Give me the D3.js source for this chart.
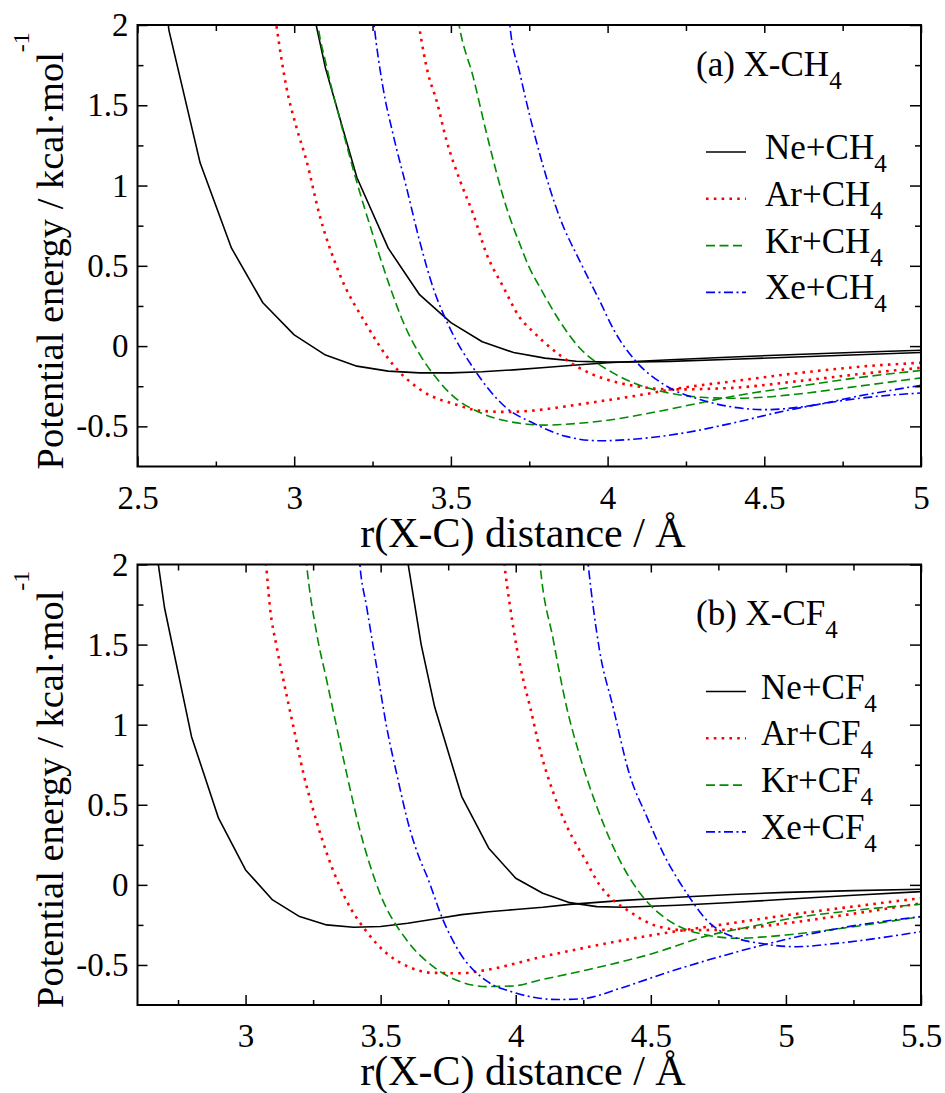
<!DOCTYPE html>
<html>
<head>
<meta charset="utf-8">
<script src="https://d3js.org/d3.v7.min.js"></script>
<style>
body { margin: 0; background: #fff; }
svg text { font-family: "Liberation Serif", "Times New Roman", Times, serif; fill: #000; }
</style>
</head>
<body>
<div id="chart"></div>
<script>
// ---- data: [r (Angstrom), E (kcal/mol)] ----
// panel (a) X-CH4, two curves per rare gas
const neCH4_1 = [[2.5,4.0],[2.6,1.97],[2.7,1.14],[2.8,0.61],[2.9,0.27],[3.0,0.07],[3.1,-0.056],[3.2,-0.125],[3.3,-0.156],[3.4,-0.167],[3.5,-0.167],[3.6,-0.16],[3.7,-0.148],[3.8,-0.133],[3.9,-0.118],[4.0,-0.104],[4.2,-0.085],[4.4,-0.068],[4.6,-0.052],[4.8,-0.038],[5.0,-0.026]];
const neCH4_2 = [[3.0,2.63],[3.1,1.73],[3.2,1.05],[3.3,0.61],[3.4,0.32],[3.5,0.146],[3.6,0.027],[3.7,-0.04],[3.8,-0.075],[3.9,-0.094],[4.0,-0.1],[4.1,-0.099],[4.2,-0.095],[4.4,-0.082],[4.6,-0.068],[4.8,-0.054],[5.0,-0.04]];
const arCH4_1 = [[2.92,2.33],[2.943,2.0],[2.975,1.614],[3.007,1.364],[3.039,1.156],[3.08,0.823],[3.145,0.448],[3.23,0.135],[3.315,-0.115],[3.41,-0.281],[3.518,-0.365],[3.59,-0.402],[3.677,-0.41],[3.76,-0.402],[3.868,-0.375],[3.975,-0.344],[4.081,-0.3125],[4.22,-0.265],[4.4,-0.219],[4.613,-0.167],[4.826,-0.125],[5.0,-0.104]];
const arCH4_2 = [[3.38,2.25],[3.398,2.0],[3.427,1.698],[3.454,1.531],[3.486,1.281],[3.529,1.031],[3.571,0.823],[3.614,0.573],[3.668,0.365],[3.72,0.177],[3.76,0.094],[3.8,0.02],[3.85,-0.06],[3.9,-0.125],[3.95,-0.175],[4.0,-0.21],[4.05,-0.235],[4.1,-0.252],[4.2,-0.27],[4.4,-0.26],[4.6,-0.22],[4.8,-0.175],[5.0,-0.135]];
const krCH4_1 = [[3.06,2.3],[3.076,2.0],[3.1,1.77],[3.15,1.38],[3.2,1.02],[3.25,0.7],[3.3,0.4],[3.35,0.14],[3.4,-0.05],[3.45,-0.19],[3.5,-0.3],[3.6,-0.42],[3.7,-0.475],[3.8,-0.492],[3.9,-0.482],[4.0,-0.462],[4.135,-0.417],[4.295,-0.354],[4.4,-0.3125],[4.61,-0.25],[4.826,-0.19],[5.0,-0.152]];
const krCH4_2 = [[3.51,2.2],[3.526,2.0],[3.571,1.677],[3.614,1.323],[3.677,0.865],[3.72,0.635],[3.75,0.49],[3.783,0.37],[3.847,0.156],[3.91,-0.01],[3.966,-0.104],[4.02,-0.17],[4.09,-0.235],[4.19,-0.29],[4.3,-0.319],[4.4,-0.325],[4.5,-0.318],[4.6,-0.3],[4.8,-0.25],[5.0,-0.198]];
const xeCH4_1 = [[3.24,2.3],[3.255,2.0],[3.283,1.614],[3.315,1.323],[3.358,0.99],[3.4,0.656],[3.443,0.365],[3.496,0.115],[3.571,-0.135],[3.677,-0.385],[3.762,-0.479],[3.868,-0.5625],[3.975,-0.59],[4.1,-0.577],[4.24,-0.542],[4.4,-0.479],[4.56,-0.406],[4.72,-0.348],[4.85,-0.315],[5.0,-0.292]];
const xeCH4_2 = [[3.675,2.3],[3.688,2.0],[3.72,1.7],[3.783,1.2],[3.847,0.802],[3.911,0.531],[3.975,0.281],[4.02,0.1],[4.09,-0.094],[4.18,-0.24],[4.295,-0.333],[4.4,-0.38],[4.507,-0.396],[4.61,-0.381],[4.826,-0.302],[5.0,-0.244]];

// panel (b) X-CF4
const neCF4_1 = [[2.6,2.91],[2.7,1.73],[2.8,0.925],[2.9,0.416],[3.0,0.093],[3.1,-0.094],[3.2,-0.198],[3.3,-0.25],[3.4,-0.265],[3.5,-0.26],[3.6,-0.24],[3.7,-0.213],[3.8,-0.186],[3.9,-0.168],[4.0,-0.154],[4.1,-0.14],[4.2,-0.122],[4.4,-0.097],[4.6,-0.077],[4.8,-0.06],[5.0,-0.047],[5.25,-0.036],[5.5,-0.027]];
const neCF4_2 = [[3.6,2.02],[3.65,1.5],[3.7,1.11],[3.8,0.551],[3.9,0.229],[4.0,0.041],[4.1,-0.052],[4.2,-0.111],[4.3,-0.136],[4.4,-0.14],[4.6,-0.127],[4.8,-0.11],[5.0,-0.09],[5.25,-0.065],[5.5,-0.042]];
const arCF4_1 = [[3.06,2.3],[3.076,2.0],[3.09,1.737],[3.115,1.487],[3.14,1.279],[3.177,0.987],[3.214,0.696],[3.25,0.47],[3.3,0.2],[3.374,-0.1],[3.448,-0.292],[3.522,-0.427],[3.596,-0.506],[3.683,-0.548],[3.794,-0.552],[3.892,-0.531],[4.09,-0.452],[4.263,-0.39],[4.51,-0.3125],[4.756,-0.25],[5.0,-0.19],[5.25,-0.135],[5.5,-0.083]];
const arCF4_2 = [[3.94,2.3],[3.958,2.0],[3.979,1.737],[4.003,1.487],[4.028,1.279],[4.053,1.112],[4.09,0.842],[4.14,0.571],[4.19,0.363],[4.263,0.14],[4.31,0.0],[4.36,-0.094],[4.42,-0.165],[4.47,-0.219],[4.53,-0.261],[4.633,-0.283],[4.756,-0.281],[5.0,-0.24],[5.25,-0.18],[5.5,-0.115]];
const krCF4_1 = [[3.21,2.3],[3.226,2.0],[3.263,1.571],[3.3,1.279],[3.337,0.987],[3.374,0.696],[3.423,0.342],[3.497,-0.052],[3.596,-0.344],[3.695,-0.511],[3.794,-0.604],[3.892,-0.635],[3.99,-0.631],[4.09,-0.594],[4.263,-0.531],[4.51,-0.427],[4.707,-0.319],[4.9,-0.25],[5.0,-0.215],[5.25,-0.16],[5.5,-0.121]];
const krCF4_2 = [[4.075,2.3],[4.09,2.0],[4.139,1.529],[4.188,1.112],[4.238,0.8],[4.3,0.488],[4.386,0.15],[4.46,-0.052],[4.53,-0.177],[4.607,-0.261],[4.706,-0.313],[4.817,-0.333],[5.0,-0.313],[5.25,-0.261],[5.5,-0.198]];
const xeCF4_1 = [[3.41,2.3],[3.423,2.0],[3.448,1.737],[3.485,1.362],[3.522,0.987],[3.559,0.696],[3.609,0.342],[3.645,0.16],[3.67,0.06],[3.73,-0.215],[3.794,-0.427],[3.892,-0.6],[3.99,-0.67],[4.077,-0.705],[4.15,-0.716],[4.25,-0.71],[4.386,-0.646],[4.57,-0.542],[4.756,-0.448],[4.94,-0.365],[5.2,-0.27],[5.5,-0.198]];
const xeCF4_2 = [[4.25,2.3],[4.268,2.0],[4.31,1.466],[4.36,1.112],[4.42,0.696],[4.485,0.426],[4.546,0.197],[4.633,-0.052],[4.706,-0.219],[4.818,-0.333],[4.904,-0.365],[5.04,-0.386],[5.188,-0.365],[5.5,-0.292]];

// ticks
const xTicksA = [2.5, 3, 3.5, 4, 4.5, 5];
const xMinorA = [2.75, 3.25, 3.75, 4.25, 4.75];
const xTicksB = [3, 3.5, 4, 4.5, 5, 5.5];
const xMinorB = [2.75, 3.25, 3.75, 4.25, 4.75, 5.25];
const yTicks = [-0.5, 0, 0.5, 1, 1.5, 2];
const yMinor = [-0.25, 0.25, 0.75, 1.25, 1.75];
const gases = ["Ne", "Ar", "Kr", "Xe"];

// line styles per gas
const styles = {
    Ne: {color: "#000000", dash: null,          width: 1.6, curve: d3.curveLinear},
    Ar: {color: "#ff0000", dash: "2.6,5.2",     width: 2.6, curve: d3.curveMonotoneX},
    Kr: {color: "#008b00", dash: "9,4.5",       width: 1.6, curve: d3.curveMonotoneX},
    Xe: {color: "#0000ff", dash: "9,3.5,2,3.5", width: 1.6, curve: d3.curveMonotoneX}
};

const FONT = '"Liberation Serif", "Times New Roman", Times, serif';
const W = 945, H = 1093;
const L = 137.5, R = 921;
const fmt = d => String(d);

const svg = d3.select("#chart").append("svg")
    .attr("width", W).attr("height", H)
    .style("font-family", FONT);

function drawPanel(p) {
    const x = d3.scaleLinear().domain(p.xDomain).range([L, R]);
    const y = d3.scaleLinear().domain([-0.75, 2]).range([p.bottom, p.top]);
    const g = svg.append("g");

    // clip for curves
    g.append("clipPath").attr("id", "clip" + p.id)
        .append("rect").attr("x", L).attr("y", p.top)
        .attr("width", R - L).attr("height", p.bottom - p.top);

    const curves = g.append("g").attr("clip-path", "url(#clip" + p.id + ")");
    p.series.forEach(s => {
        const st = styles[s.gas];
        const line = d3.line().x(d => x(d[0])).y(d => y(d[1])).curve(st.curve);
        curves.append("path")
            .attr("d", line(s.data))
            .attr("fill", "none")
            .attr("stroke", st.color)
            .attr("stroke-width", st.width)
            .attr("stroke-dasharray", st.dash)
            .attr("stroke-linejoin", "round");
    });

    // axes: inward ticks on all four sides
    function styleAxis(a) {
        a.attr("font-family", null).attr("font-size", null);
        a.select(".domain").remove();
        a.selectAll("line").attr("stroke", "#000").attr("stroke-width", 1.5);
        a.selectAll("text").style("font-family", FONT).style("font-size", "33px");
    }
    g.append("g").attr("transform", `translate(0,${p.bottom})`)
        .call(d3.axisBottom(x).tickValues(p.xTicks).tickSize(-10).tickPadding(19).tickFormat(fmt))
        .call(styleAxis);
    g.append("g").attr("transform", `translate(0,${p.bottom})`)
        .call(d3.axisBottom(x).tickValues(p.xMinor).tickSize(-5).tickFormat(""))
        .call(styleAxis);
    g.append("g").attr("transform", `translate(0,${p.top})`)
        .call(d3.axisTop(x).tickValues(p.xTicks).tickSize(-8).tickFormat(""))
        .call(styleAxis);
    g.append("g").attr("transform", `translate(0,${p.top})`)
        .call(d3.axisTop(x).tickValues(p.xMinor).tickSize(-6).tickFormat(""))
        .call(styleAxis);
    g.append("g").attr("transform", `translate(${L},0)`)
        .call(d3.axisLeft(y).tickValues(yTicks).tickSize(-10).tickPadding(9).tickFormat(fmt))
        .call(styleAxis);
    g.append("g").attr("transform", `translate(${L},0)`)
        .call(d3.axisLeft(y).tickValues(yMinor).tickSize(-6).tickFormat(""))
        .call(styleAxis);
    g.append("g").attr("transform", `translate(${R},0)`)
        .call(d3.axisRight(y).tickValues(yTicks).tickSize(-11).tickFormat(""))
        .call(styleAxis);
    g.append("g").attr("transform", `translate(${R},0)`)
        .call(d3.axisRight(y).tickValues(yMinor).tickSize(-6).tickFormat(""))
        .call(styleAxis);

    g.append("rect")
        .attr("x", L).attr("y", p.top)
        .attr("width", R - L).attr("height", p.bottom - p.top)
        .attr("fill", "none").attr("stroke", "#000").attr("stroke-width", 2);

    // axis titles
    g.append("text")
        .attr("x", 523).attr("y", p.bottom + 80)
        .attr("text-anchor", "middle").style("font-size", "42px")
        .text("r(X-C) distance / Å");

    // y title starts just below the plot bottom and reads upwards
    const yt = g.append("text")
        .attr("transform", `translate(63,${p.bottom + 3}) rotate(-90)`)
        .attr("text-anchor", "start").style("font-size", "38.5px");
    yt.append("tspan").text("Potential energy / kcal·mol");
    yt.append("tspan").style("font-size", "24px").attr("dy", -34).text("-1");

    // panel label
    const lab = g.append("text")
        .attr("x", 696).attr("y", p.labelY).style("font-size", "35px");
    lab.append("tspan").text(p.label);
    lab.append("tspan").style("font-size", "25px").attr("dy", 13).text("4");

    // legend
    gases.forEach((gas, i) => {
        const st = styles[gas];
        const ly = p.top + 127 + i * 46.8;
        g.append("line")
            .attr("x1", 706).attr("x2", 746).attr("y1", ly).attr("y2", ly)
            .attr("stroke", st.color).attr("stroke-width", st.width)
            .attr("stroke-dasharray", st.dash);
        const t = g.append("text")
            .attr("x", p.legendX).attr("y", ly + 7).style("font-size", "35px");
        t.append("tspan").text(gas + p.legendSuffix);
        t.append("tspan").style("font-size", "25px").attr("dy", 13).text("4");
    });
}

drawPanel({
    id: "a", top: 25, bottom: 466.5, xDomain: [2.5, 5],
    xTicks: xTicksA, xMinor: xMinorA,
    label: "(a) X-CH", labelY: 75.5, legendX: 765, legendSuffix: "+CH",
    series: [
        {gas: "Ne", data: neCH4_1}, {gas: "Ne", data: neCH4_2},
        {gas: "Ar", data: arCH4_1}, {gas: "Ar", data: arCH4_2},
        {gas: "Kr", data: krCH4_1}, {gas: "Kr", data: krCH4_2},
        {gas: "Xe", data: xeCH4_1}, {gas: "Xe", data: xeCH4_2}
    ]
});

drawPanel({
    id: "b", top: 564.5, bottom: 1005, xDomain: [2.6, 5.5],
    xTicks: xTicksB, xMinor: xMinorB,
    label: "(b) X-CF", labelY: 625, legendX: 761, legendSuffix: "+CF",
    series: [
        {gas: "Ne", data: neCF4_1}, {gas: "Ne", data: neCF4_2},
        {gas: "Ar", data: arCF4_1}, {gas: "Ar", data: arCF4_2},
        {gas: "Kr", data: krCF4_1}, {gas: "Kr", data: krCF4_2},
        {gas: "Xe", data: xeCF4_1}, {gas: "Xe", data: xeCF4_2}
    ]
});
</script>
</body>
</html>
